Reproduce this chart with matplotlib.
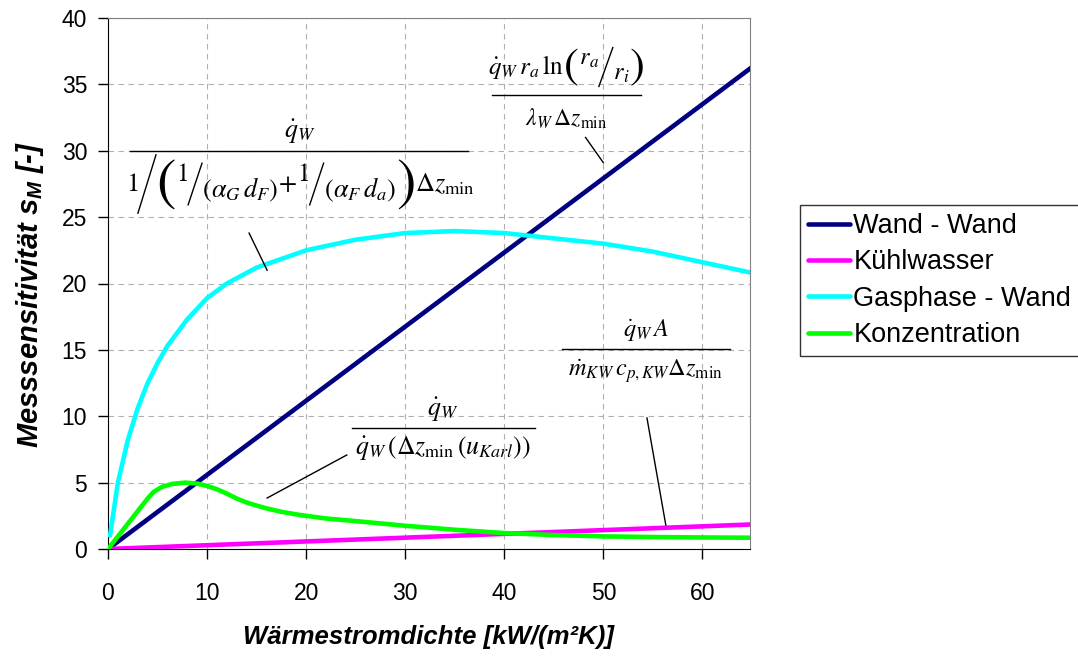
import matplotlib
matplotlib.use("Agg")
import matplotlib.pyplot as plt
from matplotlib.lines import Line2D
from matplotlib.offsetbox import TextArea, HPacker, AnnotationBbox, DrawingArea

plt.rcParams['font.family'] = ['Liberation Sans', 'DejaVu Sans']
plt.rcParams['mathtext.fontset'] = 'stix'
plt.rcParams['mathtext.rm'] = 'Liberation Sans:bold:italic'
plt.rcParams['mathtext.it'] = 'Liberation Sans:bold:italic'
plt.rcParams['mathtext.bf'] = 'Liberation Sans:bold:italic'

# ---- data ----
x_wand = [0, 65]
y_wand = [0, 36.3]

x_kuehl = [0, 65]
y_kuehl = [0, 1.85]

x_gas = [0.2, 1, 2, 3, 4, 5, 6, 8, 10, 12, 15, 20, 25, 30, 35, 40, 45, 50, 55, 60, 65]
y_gas = [1.0, 5.0, 8.2, 10.6, 12.5, 14.0, 15.3, 17.3, 18.9, 20.0, 21.2, 22.5, 23.3, 23.8, 23.95, 23.8, 23.4, 23.0, 22.4, 21.6, 20.8]

x_konz = [0, 1, 2, 3, 4, 4.6, 5.5, 6.5, 7.8, 9, 10, 11, 12, 13, 14, 15, 16, 17.5, 19.4, 22, 25, 30, 35, 40, 45, 50, 55, 60, 65]
y_konz = [0, 0.95, 1.9, 2.85, 3.8, 4.3, 4.7, 4.9, 5.0, 4.93, 4.75, 4.5, 4.17, 3.8, 3.5, 3.27, 3.06, 2.8, 2.56, 2.3, 2.1, 1.75, 1.45, 1.2, 1.05, 0.95, 0.9, 0.87, 0.85]

labels = ['Wand - Wand', 'Kühlwasser', 'Gasphase - Wand', 'Konzentration']
colors = ['#000080', '#FF00FF', '#00FFFF', '#00FF00']

x_ticks = [0, 10, 20, 30, 40, 50, 60]
y_ticks = [0, 5, 10, 15, 20, 25, 30, 35, 40]

W, H = 1078, 657
fig = plt.figure(figsize=(W / 100, H / 100), dpi=100)
ax = fig.add_axes([108 / W, 1 - 549 / H, (750 - 108) / W, (549 - 18) / H])

series = [(x_wand, y_wand), (x_kuehl, y_kuehl), (x_gas, y_gas), (x_konz, y_konz)]
handles = []
for (xs, ys), lab, c in zip(series, labels, colors):
    h, = ax.plot(xs, ys, color=c, lw=3.3, label=lab, solid_capstyle='round',
                 solid_joinstyle='round', zorder=3)
    handles.append(h)

ax.set_xlim(0, 64.8)
ax.set_ylim(0, 40)
ax.set_xticks(x_ticks)
ax.set_yticks(y_ticks)
ax.tick_params(direction='out', length=7, width=1, labelsize=16.5)
ax.tick_params(axis='x', pad=17)
ax.tick_params(axis='y', pad=8)
ax.grid(True, color='#b0b0b0', linestyle=(0, (5, 4)), lw=0.8)
ax.set_axisbelow(True)
for s in ['top', 'right']:
    ax.spines[s].set_color('#808080')
for s in ['left', 'bottom']:
    ax.spines[s].set_color('black')

ax.set_xlabel('Wärmestromdichte [kW/(m²K)]', fontsize=18.5, fontweight='bold',
              fontstyle='italic', labelpad=14)
ax.set_ylabel(r'Messsensitivität $s_M$ [-]', fontsize=21, fontweight='bold',
              fontstyle='italic', math_fontfamily='custom')
ax.yaxis.set_label_coords(-0.096, 0.48)

# ---- formula annotations (pixel positions, origin top-left) ----
def fx(px):
    return px / W

def fy(py):
    return 1 - py / H

def tx(t, s):
    return TextArea(t, textprops=dict(fontsize=s, math_fontfamily='stix'))

def sl(w, h, yd=0.0):
    da = DrawingArea(w, h, 0, yd)
    da.add_artist(Line2D([0, w], [-yd, h - yd], color='black', lw=1))
    return da

def place(box, xc, yc):
    ab = AnnotationBbox(box, (xc, H - yc), xycoords='figure pixels', frameon=False,
                        box_alignment=(0.5, 0.5), pad=0)
    fig.add_artist(ab)

def hline(x0, x1, y):
    fig.add_artist(Line2D([fx(x0), fx(x1)], [fy(y), fy(y)], color='black', lw=1))

def hp(children, align):
    return HPacker(children=children, align=align, pad=0, sep=0)

# Wand - Wand
inner1 = hp([tx(r'${}^{r_a}$', 25), sl(10, 28, 8), tx(r'${}_{r_i}$', 25)], 'baseline')
place(hp([tx(r'$\dot{q}_W\, r_a\, \ln$', 18), tx(r'$($', 32), inner1, tx(r'$)$', 32)],
         'center'), 566, 67)
hline(492, 641, 95)
place(tx(r'$\lambda_W\,\Delta z_{\min}$', 17), 566, 119)

# Gasphase - Wand
place(tx(r'$\dot{q}_W$', 18.5), 300, 132)
hline(130, 468, 151)
inner2a = hp([tx(r'${}^{1}$', 26), sl(10, 30, 9), tx(r'${}_{(\alpha_G\, d_F)}$', 27)], 'baseline')
inner2b = hp([tx(r'${}^{1}$', 26), sl(10, 30, 9), tx(r'${}_{(\alpha_F\, d_a)}$', 27)], 'baseline')
place(hp([tx(r'$1$', 19), sl(13, 42), tx(r'$($', 42), inner2a, tx(r'$+$', 19), inner2b,
          tx(r'$)$', 42), tx(r'$\Delta z_{\min}$', 19)], 'center'), 300, 184)

# Konzentration
place(tx(r'$\dot{q}_W$', 18.5), 443, 410)
hline(352, 535, 428)
place(tx(r'$\dot{q}_W\,(\Delta z_{\min}\,(u_{Karl}))$', 18.5), 443, 449)

# Kuehlwasser
place(tx(r'$\dot{q}_W\, A$', 17.5), 646, 330)
hline(562, 730, 349)
place(tx(r'$\dot{m}_{KW}\, c_{p,KW} \Delta z_{\min}$', 17.5), 646, 371)

# leader lines (data coords)
leaders = [((14.24, 23.8), (16.06, 21.0)),
           ((48.2, 31.0), (50.0, 29.1)),
           ((54.4, 9.87), (56.3, 1.81)),
           ((24.1, 7.08), (16.06, 3.84))]
for (a, b) in leaders:
    ax.plot([a[0], b[0]], [a[1], b[1]], color='black', lw=1, zorder=4)

leg = fig.legend(handles=handles, labels=labels, loc='upper left',
                 bbox_to_anchor=(fx(800), fy(205)), fontsize=19.5, frameon=True,
                 fancybox=False, edgecolor='black', handlelength=1.55,
                 handletextpad=0.12, labelspacing=0.38, borderpad=0.3,
                 borderaxespad=0)
leg.get_frame().set_linewidth(1)

fig.savefig('out.png', dpi=100)
